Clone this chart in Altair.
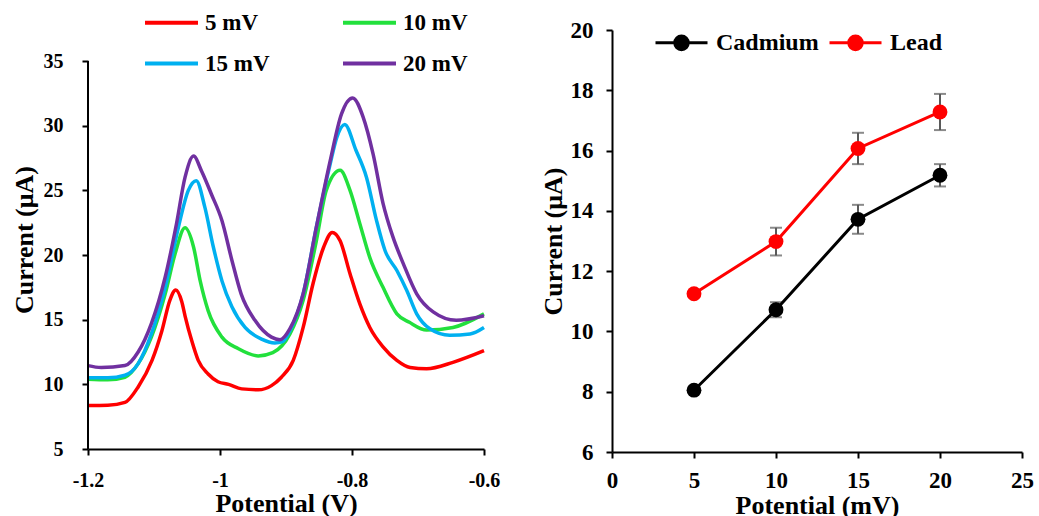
import altair as alt
import pandas as pd

FONT = "Liberation Serif"

# ---------------- Left panel: voltammograms ----------------
red_v = [-1.2, -1.17, -1.144, -1.124, -1.103, -1.088, -1.076, -1.067, -1.058, -1.053, -1.043, -1.033,
         -1.018, -1.003, -0.987, -0.967, -0.942, -0.922, -0.907, -0.889, -0.874, -0.859, -0.843, -0.830,
         -0.818, -0.803, -0.788, -0.773, -0.753, -0.732, -0.712, -0.687, -0.647, -0.600]
red_i = [8.36, 8.38, 8.6, 9.8, 11.85, 14.15, 16.5, 17.3, 16.4, 15.3, 13.4, 11.85,
         10.8, 10.2, 10.0, 9.65, 9.58, 9.9, 10.55, 11.85, 14.4, 17.8, 20.6, 21.75,
         21.1, 18.55, 16.2, 14.4, 12.9, 11.85, 11.3, 11.2, 11.7, 12.6]

green_v = [-1.2, -1.17, -1.144, -1.124, -1.104, -1.083, -1.068, -1.053, -1.04, -1.03, -1.018, -0.997,
           -0.972, -0.942, -0.920, -0.894, -0.874, -0.854, -0.839, -0.818, -0.803, -0.788, -0.773,
           -0.753, -0.732, -0.713, -0.687, -0.647, -0.600]
green_i = [10.4, 10.35, 10.55, 11.6, 13.65, 17.0, 20.1, 22.1, 20.6, 18.0, 15.7, 13.65,
           12.75, 12.2, 12.45, 13.9, 16.5, 21.1, 25.0, 26.55, 25.0, 22.4, 19.8,
           17.5, 15.45, 14.8, 14.2, 14.4, 15.45]

cyan_v = [-1.2, -1.17, -1.144, -1.124, -1.104, -1.083, -1.063, -1.048, -1.036, -1.023, -1.01, -0.997,
          -0.982, -0.962, -0.937, -0.917, -0.905, -0.894, -0.874, -0.854, -0.833, -0.823, -0.811,
          -0.794, -0.778, -0.763, -0.75, -0.732, -0.717, -0.702, -0.682, -0.652, -0.621, -0.600]
cyan_i = [10.5, 10.5, 10.7, 11.6, 13.9, 17.5, 22.15, 25.0, 25.75, 23.7, 20.6, 18.0,
          16.0, 14.4, 13.5, 13.2, 13.3, 14.15, 17.0, 22.15, 27.05, 29.1, 30.1,
          28.1, 26.0, 22.7, 20.35, 18.8, 17.25, 15.45, 14.3, 13.8, 13.9, 14.4]

purple_v = [-1.2, -1.18, -1.144, -1.124, -1.104, -1.083, -1.066, -1.053, -1.04, -1.028, -1.013, -0.997,
            -0.982, -0.968, -0.947, -0.922, -0.909, -0.894, -0.874, -0.854, -0.833, -0.816, -0.799,
            -0.783, -0.768, -0.753, -0.738, -0.722, -0.702, -0.677, -0.642, -0.600]
purple_i = [11.45, 11.3, 11.45, 12.5, 14.7, 18.3, 22.4, 26.0, 27.65, 26.5, 24.7, 22.65,
            19.6, 17.0, 14.95, 13.65, 13.45, 14.3, 17.0, 22.15, 27.3, 30.9, 32.15,
            30.65, 27.8, 24.0, 21.4, 19.3, 17.0, 15.6, 14.95, 15.3]

series_names = ["5 mV", "10 mV", "15 mV", "20 mV"]
series_colors = ["#FF0000", "#22E03C", "#00B0F0", "#7030A0"]

# left y-axis: drawn range of the axis line (the scale has headroom above it)
left_y_ticks = [5, 10, 15, 20, 25, 30, 35]
left_axis_line = pd.DataFrame({"V": [-1.2], "lo": [5], "hi": [35]})

rows = []
for name, vs, cs in zip(series_names, [red_v, green_v, cyan_v, purple_v],
                        [red_i, green_i, cyan_i, purple_i]):
    for k, (v, c) in enumerate(zip(vs, cs)):
        rows.append({"series": name, "V": v, "I": c, "k": k})
left_df = pd.DataFrame(rows)

xl = alt.X("V:Q", scale=alt.Scale(domain=[-1.2, -0.6], nice=False, zero=False),
           axis=alt.Axis(values=[-1.2, -1.0, -0.8, -0.6], labelExpr="toString(datum.value)",
                         title="Potential (V)", labelFontSize=20, labelPadding=15, titlePadding=0))
yl = alt.Y("I:Q", scale=alt.Scale(domain=[5, 37.4], nice=False, zero=False),
           axis=alt.Axis(values=left_y_ticks, title="Current (μA)", domain=False,
                         labelFontSize=20, labelPadding=19, titlePadding=6))

# long dash symbol drawn twice as wide as its layout box
dash_path = "M-2,0L2,0"

left_lines = alt.Chart(left_df).mark_line(strokeWidth=3.5, interpolate="monotone").encode(
    x=xl, y=yl,
    color=alt.Color("series:N", scale=alt.Scale(domain=series_names, range=series_colors),
                    legend=alt.Legend(orient="none", legendX=68, legendY=-23, columns=2,
                                      direction="horizontal",
                                      columnPadding=65, rowPadding=13, title=None,
                                      symbolType=dash_path, symbolSize=702, symbolStrokeWidth=4,
                                      labelFont=FONT, labelFontWeight="bold", labelFontSize=23,
                                      labelColor="black", labelOffset=18)),
    order="k:Q",
)
left_axis = alt.Chart(left_axis_line).mark_rule(color="black", strokeWidth=2).encode(
    x="V:Q", y="lo:Q", y2="hi:Q")
left = alt.layer(left_lines, left_axis).properties(width=396, height=419)

# ---------------- Right panel: peak currents ----------------
potential = [5, 10, 15, 20]
cadmium = [8.05, 10.72, 13.72, 15.18]
cadmium_err = [0.1, 0.25, 0.48, 0.37]
lead = [11.25, 12.98, 16.07, 17.28]
lead_err = [0.1, 0.46, 0.52, 0.6]

rrows = []
for p, c, e in zip(potential, cadmium, cadmium_err):
    rrows.append({"metal": "Cadmium", "P": p, "I": c, "lo": c - e, "hi": c + e})
for p, c, e in zip(potential, lead, lead_err):
    rrows.append({"metal": "Lead", "P": p, "I": c, "lo": c - e, "hi": c + e})
right_df = pd.DataFrame(rrows)

leg_path = ("M-1,0L1,0"
            "M0.26,0A0.26,0.26,0,1,1,-0.26,0A0.26,0.26,0,1,1,0.26,0"
            "M0.16,0A0.16,0.16,0,1,1,-0.16,0A0.16,0.16,0,1,1,0.16,0"
            "M0.06,0A0.06,0.06,0,1,1,-0.06,0A0.06,0.06,0,1,1,0.06,0")

xr = alt.X("P:Q", scale=alt.Scale(domain=[0, 25], nice=False),
           axis=alt.Axis(values=[0, 5, 10, 15, 20, 25], title="Potential (mV)",
                         labelFontSize=23, labelPadding=11, titlePadding=0))
yr = alt.Y("I:Q", scale=alt.Scale(domain=[6, 20], nice=False, zero=False),
           axis=alt.Axis(values=[6, 8, 10, 12, 14, 16, 18, 20], title="Current (μA)",
                         labelFontSize=23, labelPadding=13, titlePadding=4))
color_r = alt.Color("metal:N", scale=alt.Scale(domain=["Cadmium", "Lead"], range=["#000000", "#FF0000"]),
                    legend=alt.Legend(orient="none", legendX=42, legendY=-15, direction="horizontal",
                                      columns=2, columnPadding=4, title=None,
                                      symbolType=leg_path, symbolSize=2704, symbolStrokeWidth=3,
                                      labelFont=FONT, labelFontWeight="bold", labelFontSize=24,
                                      labelColor="black", labelOffset=7))

base = alt.Chart(right_df)
err = base.mark_rule(color="#595959", strokeWidth=2).encode(x=xr, y="lo:Q", y2="hi:Q")
cap_lo = base.mark_tick(color="#595959", thickness=2, size=12, orient="horizontal").encode(x=xr, y="lo:Q")
cap_hi = base.mark_tick(color="#595959", thickness=2, size=12, orient="horizontal").encode(x=xr, y="hi:Q")
lines = base.mark_line(strokeWidth=3).encode(x=xr, y=yr, color=color_r)
pts = base.mark_point(filled=True, size=220, opacity=1, shape="circle").encode(x=xr, y=yr, color=color_r)

right = alt.layer(err, cap_lo, cap_hi, lines, pts).properties(width=410, height=422)

chart = alt.hconcat(left, right, spacing=128, bounds="flush").resolve_scale(
    color="independent"
).resolve_legend(color="independent").properties(
    padding={"left": 11, "top": 7, "right": 5, "bottom": 0}
).configure_view(stroke=None).configure_axis(
    grid=False, domainColor="black", domainWidth=2, tickColor="black", tickWidth=2, tickSize=6,
    labelFlush=False,
    labelFont=FONT, labelFontWeight="bold", labelColor="black",
    titleFont=FONT, titleFontWeight="bold", titleFontSize=26, titleColor="black",
)

chart.save("out.html", embed_options={"renderer": "svg", "actions": False})
